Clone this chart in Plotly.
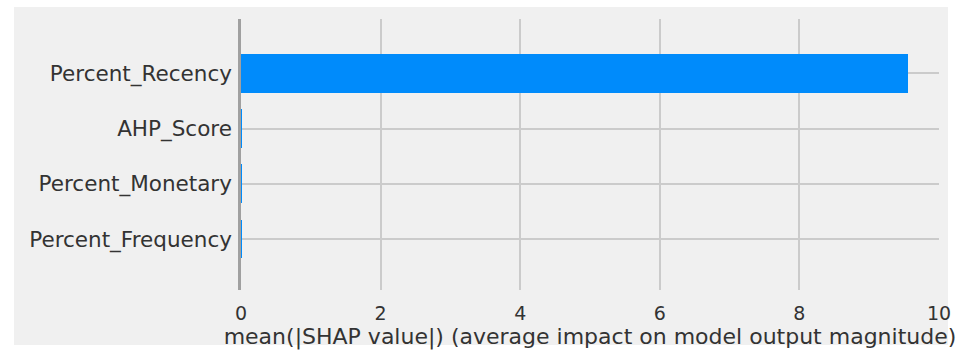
import plotly.graph_objects as go

# Mean absolute SHAP value per feature (bottom to top)
features = ["Percent_Frequency", "Percent_Monetary", "AHP_Score", "Percent_Recency"]
mean_abs_shap = [0.002, 0.002, 0.003, 9.55]
x_ticks = [0, 2, 4, 6, 8, 10]

W, H = 958, 354
L, R, T, B = 241, 939, 19, 290  # plot area in pixels

BG = "#f0f0f0"
GRID = "#cbcbcb"
TEXT = "#333333"
FONT = "DejaVu Sans"

fig = go.Figure(
    go.Bar(
        x=mean_abs_shap,
        y=list(range(len(features))),
        orientation="h",
        width=0.7,
        marker=dict(color="#008bfb", line=dict(width=0)),
        hoverinfo="skip",
    )
)

def px_x(p):
    return (p - L) / (R - L)

def px_y(p):
    return (B - p) / (B - T)

# figure panel behind the axes, inset from the white page edge
fig.add_shape(
    type="rect", xref="paper", yref="paper", layer="below",
    x0=px_x(14), x1=px_x(948), y0=px_y(345), y1=px_y(7),
    fillcolor=BG, line=dict(width=0),
)

fig.update_layout(
    width=W, height=H,
    margin=dict(l=L, r=W - R, t=T, b=H - B, pad=0, autoexpand=False),
    paper_bgcolor="white",
    plot_bgcolor=BG,
    showlegend=False,
    bargap=0,
    font=dict(family=FONT, color=TEXT),
)

fig.update_xaxes(
    range=[0, 10],
    tickvals=x_ticks,
    ticktext=[str(v) for v in x_ticks],
    tickfont=dict(size=19, color=TEXT),
    ticks="outside", ticklen=6, tickcolor=BG,
    showgrid=True, gridcolor=GRID, gridwidth=1.5,
    zeroline=False, showline=False,
    automargin=False,
    title=dict(
        text="mean(|SHAP value|) (average impact on model output magnitude)",
        font=dict(size=22, color=TEXT),
        standoff=3,
    ),
)

fig.update_yaxes(
    range=[-0.92, 3.98],
    tickvals=list(range(len(features))),
    ticktext=features,
    tickfont=dict(size=21.5, color=TEXT),
    ticks="outside", ticklen=2, tickcolor=BG,
    showgrid=True, gridcolor=GRID, gridwidth=1.5,
    zeroline=False,
    automargin=False,
    showline=True, linecolor="#a0a0a0", linewidth=2.5,
)

fig.write_html("out.html")
